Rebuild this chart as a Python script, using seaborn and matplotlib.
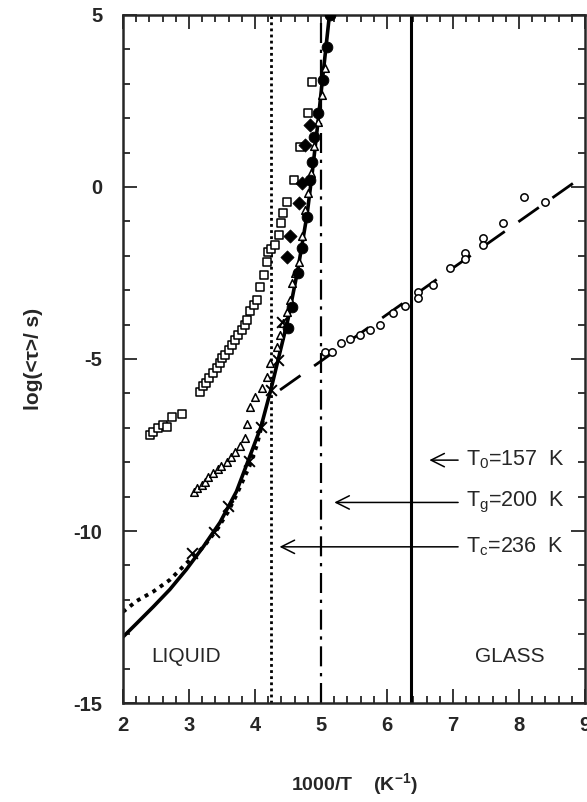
import numpy as np
import pandas as pd
import seaborn as sns
from matplotlib import pyplot as plt
from matplotlib.ticker import MultipleLocator

# transition temperatures, shown as 1000/T
t_c = 1000 / 236
t_g = 1000 / 200
t_0 = 1000 / 157

# solid curve
fit_x = [2.00, 2.21, 2.46, 2.71, 2.96, 3.22, 3.47, 3.72, 3.90, 4.09, 4.24, 4.35, 4.50, 4.65, 4.79, 4.87, 4.95, 5.03, 5.14]
fit_y = [-13.08, -12.68, -12.2, -11.7, -11.12, -10.45, -9.75, -8.85, -7.94, -6.98, -5.9, -5.03, -3.85, -2.4, -0.8,
         0.45, 1.8, 3.25, 5.2]

# dotted curve
dot_x = [2.00, 2.21, 2.46, 2.71, 2.96, 3.22, 3.42, 3.59, 3.72, 3.92, 4.03, 4.12]
dot_y = [-12.35, -12.03, -11.76, -11.42, -10.94, -10.46, -9.97, -9.45, -8.95, -8.1, -7.5, -6.8]

# dashed line in the glass
dash_x = [4.38, 9.0]
dash_y = [-5.9, 0.35]

# filled circles
fc_x = [5.14, 5.09, 5.03, 4.95, 4.89, 4.86, 4.83, 4.79, 4.71, 4.65, 4.56, 4.50]
fc_y = [5.0, 4.07, 3.11, 2.15, 1.45, 0.73, 0.20, -0.87, -1.77, -2.50, -3.49, -4.10]

# crosses
cr_x = [4.41, 4.35, 4.24, 4.09, 3.91, 3.59, 3.38, 3.05]
cr_y = [-3.92, -5.03, -5.90, -6.98, -7.97, -9.27, -10.03, -10.64]

# open triangles
tri_x = [3.07, 3.12, 3.19, 3.24, 3.29, 3.36, 3.44, 3.49, 3.57, 3.64, 3.70, 3.77, 3.85, 3.88, 3.92, 4.00,
         4.10, 4.18, 4.23, 4.33, 4.38, 4.43, 4.48, 4.53, 4.56, 4.61, 4.66, 4.71, 4.76, 4.81, 4.85, 4.90,
         4.95, 5.01, 5.06]
tri_y = [-8.86, -8.76, -8.66, -8.57, -8.42, -8.30, -8.21, -8.11, -7.99, -7.84, -7.69, -7.53, -7.31, -6.9, -6.39, -6.10,
         -5.85, -5.51, -5.13, -4.64, -4.30, -3.96, -3.63, -3.28, -2.80, -2.51, -2.17, -1.44, -0.67, -0.18, 0.4, 1.2,
         1.9, 2.67, 3.45]

# open squares
sq_x = [2.41, 2.46, 2.53, 2.61, 2.66, 2.74, 2.89,
        3.16, 3.21, 3.26, 3.31, 3.37, 3.42, 3.47, 3.50, 3.55, 3.60, 3.65, 3.70, 3.75, 3.80, 3.85, 3.88,
        3.93, 3.98, 4.03, 4.08, 4.13, 4.18, 4.20, 4.25, 4.31, 4.37, 4.39, 4.42, 4.49, 4.59, 4.68, 4.81, 4.86]
sq_y = [-7.21, -7.11, -7.02, -6.92, -6.97, -6.68, -6.61,
        -5.95, -5.80, -5.69, -5.56, -5.42, -5.27, -5.13, -4.98, -4.88, -4.74, -4.59, -4.45, -4.30, -4.16, -4.01, -3.87,
        -3.62, -3.43, -3.28, -2.90, -2.56, -2.17, -1.88, -1.80, -1.69, -1.40, -1.06, -0.76, -0.43, 0.20, 1.17, 2.14, 3.06]

# filled diamonds
dm_x = [4.49, 4.53, 4.66, 4.71, 4.76, 4.83]
dm_y = [-2.05, -1.42, -0.47, 0.11, 1.22, 1.80]

# open circles (glass)
oc_x = [5.06, 5.16, 5.31, 5.44, 5.59, 5.74, 5.89, 6.09, 6.27, 6.47, 6.47, 6.70, 6.95, 7.18, 7.18, 7.46, 7.46,
        7.76, 8.07, 8.40]
oc_y = [-4.79, -4.79, -4.55, -4.43, -4.30, -4.16, -4.01, -3.67, -3.46, -3.04, -3.22, -2.85, -2.36, -1.93, -2.10,
        -1.49, -1.70, -1.06, -0.28, -0.43]

sns.set_style("ticks")
plt.rcParams['font.family'] = ['Liberation Sans', 'DejaVu Sans']
plt.rcParams['mathtext.fontset'] = 'custom'
plt.rcParams['mathtext.rm'] = 'Liberation Sans'
plt.rcParams['mathtext.it'] = 'Liberation Sans'
plt.rcParams['mathtext.bf'] = 'Liberation Sans:bold'
plt.rcParams['axes.unicode_minus'] = False

fig = plt.figure(figsize=(5.87, 8.02), dpi=100)
ax = fig.add_axes([0.2095, 0.1234, 0.787, 0.858])

# vertical markers for Tc, Tg, T0
ax.axvline(t_c, color='black', lw=2.0, ls=(0, (1, 1.2)))
ax.axvline(t_g, color='black', lw=1.6, ls=(0, (9, 3, 1.5, 3)))
ax.axvline(t_0, color='black', lw=2.2)

sns.lineplot(x=fit_x, y=fit_y, ax=ax, color='black', lw=2.6, sort=False)
sns.lineplot(x=dot_x, y=dot_y, ax=ax, color='black', lw=2.8, ls=(0, (1, 1.3)), sort=False)
sns.lineplot(x=dash_x, y=dash_y, ax=ax, color='black', lw=2.0, ls=(0, (9, 6)), sort=False)

sns.scatterplot(x=sq_x, y=sq_y, ax=ax, marker='s', s=34, facecolor='white', edgecolor='black', linewidth=1.1, zorder=3)
sns.scatterplot(x=tri_x, y=tri_y, ax=ax, marker='^', s=30, facecolor='white', edgecolor='black', linewidth=1.1, zorder=3)
sns.scatterplot(x=oc_x, y=oc_y, ax=ax, marker='o', s=28, facecolor='white', edgecolor='black', linewidth=1.1, zorder=3)
sns.scatterplot(x=fc_x, y=fc_y, ax=ax, marker='o', s=60, color='black', edgecolor='black', zorder=4)
sns.scatterplot(x=dm_x, y=dm_y, ax=ax, marker='D', s=45, color='black', edgecolor='black', zorder=4)
sns.scatterplot(x=cr_x, y=cr_y, ax=ax, marker='x', s=60, color='black', linewidth=1.4, zorder=4)

ax.set_xlim(2, 9)
ax.set_ylim(-15, 5)
ax.xaxis.set_major_locator(MultipleLocator(1))
ax.xaxis.set_minor_locator(MultipleLocator(0.2))
ax.yaxis.set_major_locator(MultipleLocator(5))
ax.yaxis.set_minor_locator(MultipleLocator(1))
ax.tick_params(which='both', direction='in', top=True, right=True, width=1.3, labelsize=14.5)
ax.tick_params(axis='y', pad=15)
ax.tick_params(axis='x', pad=9)
ax.tick_params(which='major', length=10)
ax.tick_params(which='minor', length=5)
for lab in ax.get_xticklabels() + ax.get_yticklabels():
    lab.set_fontweight('bold')
for sp in ax.spines.values():
    sp.set_linewidth(1.8)

ax.set_xlabel('1000/T    (K$^{\\mathbf{-1}}$)', fontsize=14, fontweight='bold', labelpad=26)
ax.set_ylabel('log(<τ>/ s)', fontsize=15, fontweight='bold', labelpad=22)

# arrows and labels
arrow = dict(arrowstyle='->', color='black', lw=1.1, mutation_scale=24)
ax.annotate('', xy=(6.60, -7.94), xytext=(7.12, -7.94), arrowprops=arrow)
ax.annotate('', xy=(5.16, -9.17), xytext=(7.12, -9.17), arrowprops=arrow)
ax.annotate('', xy=(4.33, -10.46), xytext=(7.12, -10.46), arrowprops=arrow)
ax.text(7.2, -7.94, 'T$_\\mathrm{0}$=157  K', fontsize=15.5, va='center')
ax.text(7.2, -9.17, 'T$_\\mathrm{g}$=200  K', fontsize=15.5, va='center')
ax.text(7.2, -10.46, 'T$_\\mathrm{c}$=236  K', fontsize=15.5, va='center')
ax.text(2.96, -13.65, 'LIQUID', fontsize=15, ha='center', va='center')
ax.text(7.86, -13.65, 'GLASS', fontsize=15, ha='center', va='center')

fig.savefig('out.png', dpi=100)
